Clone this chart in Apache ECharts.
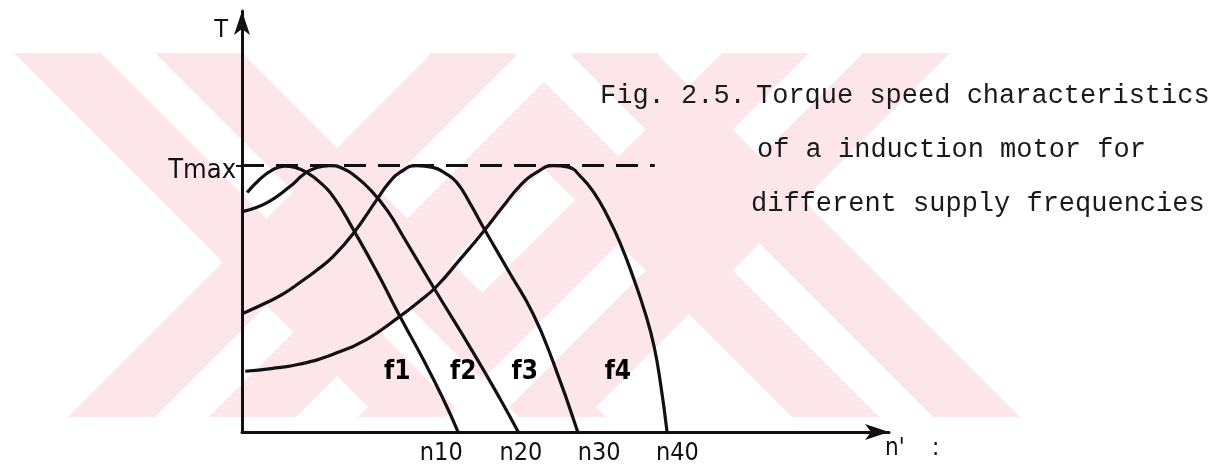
<!DOCTYPE html>
<html><head><meta charset="utf-8">
<script src="https://cdn.jsdelivr.net/npm/echarts@6/dist/echarts.min.js"></script>
<style>html,body{margin:0;padding:0;background:#fff}#c{width:1223px;height:466px}</style>
</head><body><div id="c"></div>
<script>
// x: relative speed (0..100 along the n axis), y: torque T / Tmax
const f1 = [[0.8,0.899],[2.6,0.945],[4.6,0.982],[6.6,0.998],[8.2,0.993],[9.7,0.978],[12.1,0.936],[14.4,0.873],[17.2,0.760],[20.9,0.599],[24.4,0.434],[28.0,0.273],[31.1,0.124],[33.4,0]];
const f2 = [[0.2,0.828],[3.9,0.861],[7.4,0.921],[9.7,0.970],[11.6,0.993],[13.6,1.0],[15.5,0.990],[17.5,0.960],[20.0,0.905],[22.5,0.830],[25.0,0.730],[29.5,0.547],[35.7,0.300],[39.9,0.124],[42.7,0]];
const f3 = [[0.2,0.446],[3.9,0.487],[6.5,0.520],[9.0,0.562],[11.6,0.608],[14.1,0.659],[17.2,0.745],[20.9,0.874],[22.7,0.935],[24.4,0.974],[27.0,1.0],[29.5,0.993],[31.5,0.970],[33.2,0.936],[35.2,0.860],[37.2,0.772],[41.4,0.596],[45.0,0.443],[48.1,0.262],[51.9,0]];
const f4 = [[0.5,0.228],[4.5,0.238],[9.0,0.255],[14.1,0.292],[19.3,0.348],[24.4,0.434],[27.3,0.488],[30.1,0.547],[33.6,0.645],[37.2,0.749],[40.3,0.845],[43.0,0.925],[45.6,0.975],[48.1,1.0],[50.3,0.995],[52.5,0.955],[54.5,0.895],[56.5,0.810],[58.4,0.712],[60.4,0.585],[62.4,0.440],[63.7,0.320],[64.7,0.180],[65.7,0]];
const tmaxLine = [[0,1],[63.8,1]];
const curveNames = ['f1','f2','f3','f4'];
const curveLabelX = [24.0, 34.2, 43.7, 58.1];
const curveLabelY = 0.225;
const speedTicks = [30.8, 43.1, 55.2, 67.3];
const speedTickLabels = ['n10','n20','n30','n40'];
const torqueTicks = [1];
const torqueTickLabels = ['Tmax'];
const captionLines = ['Fig. 2.5.', 'Torque speed characteristics', 'of a induction motor for', 'different supply frequencies'];

const INK = '#111111';
const SANS = '"DejaVu Sans Condensed","Liberation Sans Narrow","DejaVu Sans",sans-serif';
const MONO = '"Liberation Mono","DejaVu Sans Mono",monospace';
const PINK = '#fce6ea';

// watermark (background decoration): two crossed X shapes made of 45-degree bands
const wmTop = 53, wmBot = 417;
function band(dir, a, b) {
  if (dir > 0) return [[a+wmTop,wmTop],[b+wmTop,wmTop],[b+wmBot,wmBot],[a+wmBot,wmBot]];
  return [[a-wmTop,wmTop],[b-wmTop,wmTop],[b-wmBot,wmBot],[a-wmBot,wmBot]];
}
function stripe(dir, a, b, c, upper) {
  if (dir > 0) {
    const p = [[(a+c)/2,(c-a)/2],[(b+c)/2,(c-b)/2]];
    return upper ? [[a+wmTop,wmTop],[b+wmTop,wmTop],p[1],p[0]] : [p[0],p[1],[b+wmBot,wmBot],[a+wmBot,wmBot]];
  } else {
    const p = [[(a+c)/2,(a-c)/2],[(b+c)/2,(b-c)/2]];
    return upper ? [[a-wmTop,wmTop],[b-wmTop,wmTop],p[1],p[0]] : [p[0],p[1],[b-wmBot,wmBot],[a-wmBot,wmBot]];
  }
}
function xShape(cx, cy, h, s) {
  const d = cx - cy, su = cx + cy;
  return {
    bands: [band(1, d-h, d+h), band(-1, su-h, su+h)],
    stripes: [
      stripe(1, d-s, d+s, su-h, true), stripe(1, d-s, d+s, su+h, false),
      stripe(-1, su-s, su+s, d+h, true), stripe(-1, su-s, su+s, d-h, false)
    ]
  };
}
const wmA = xShape(337, 262, 114, 27), wmB = xShape(689, 200, 114, 27);
const wmElems = [];
[...wmA.bands, ...wmB.bands].forEach(p => wmElems.push({type:'polygon', silent:true, z:-10, shape:{points:p}, style:{fill:PINK}}));
[...wmA.stripes, ...wmB.stripes].forEach(p => wmElems.push({type:'polygon', silent:true, z:-9, shape:{points:p}, style:{fill:'#ffffff'}}));

function curve(name, data) {
  return { name, type:'line', data, smooth:0.5, symbol:'none', z:3, lineStyle:{color:INK, width:3.2} };
}

const chart = echarts.init(document.getElementById('c'), null, {renderer:'canvas'});
chart.setOption({
  backgroundColor:'#ffffff',
  animation:false,
  title: [
    {text:captionLines[0], left:600, top:82},
    {text:captionLines[1], left:756, top:82},
    {text:captionLines[2], left:757, top:136},
    {text:captionLines[3], left:751, top:190}
  ].map(t => Object.assign(t, {padding:0, textStyle:{fontFamily:MONO, fontSize:27, fontWeight:'normal', color:'#1a1a1a'}})),
  graphic: wmElems,
  grid:{left:242, right:334, top:11, bottom:33, containLabel:false},
  xAxis:{
    type:'value', min:0, max:100,
    name:"n'    :", nameLocation:'end', nameGap:-4,
    nameTextStyle:{fontFamily:SANS, fontSize:24, color:INK, align:'left', verticalAlign:'top', padding:[5,0,0,0]},
    axisLine:{show:true, onZero:false, symbol:['none','arrow'], symbolSize:[12,24], symbolOffset:[0,0], lineStyle:{color:INK, width:3}},
    axisTick:{show:false},
    splitLine:{show:false},
    axisLabel:{show:true, customValues:speedTicks, margin:9,
      formatter:(v)=>{const i = speedTicks.findIndex(t=>Math.abs(t-v)<1e-6); return i>=0?speedTickLabels[i]:'';},
      fontFamily:SANS, fontSize:25, color:INK}
  },
  yAxis:{
    type:'value', min:0, max:1.58,
    name:'T', nameLocation:'end', nameGap:-19,
    nameTextStyle:{fontFamily:SANS, fontSize:25, color:INK, align:'right', verticalAlign:'middle', padding:[0,14,0,0]},
    axisLine:{show:true, onZero:false, symbol:['none','arrow'], symbolSize:[12,24], symbolOffset:[0,0], lineStyle:{color:INK, width:3}},
    axisTick:{show:true, customValues:torqueTicks, length:6, lineStyle:{color:INK, width:2}},
    splitLine:{show:false},
    axisLabel:{show:true, customValues:torqueTicks, margin:6,
      formatter:(v)=>{const i = torqueTicks.findIndex(t=>Math.abs(t-v)<1e-6); return i>=0?'{t|'+torqueTickLabels[i]+'}':'';},
      rich:{t:{fontFamily:SANS, fontSize:27, color:INK, padding:[10,0,0,0]}},
      fontFamily:SANS, fontSize:27, color:INK}
  },
  series:[
    curve('f1', f1), curve('f2', f2), curve('f3', f3), curve('f4', f4),
    {name:'Tmax', type:'line', data:tmaxLine, symbol:'none', z:2,
     lineStyle:{color:INK, width:3, type:[22,12]}},
    {name:'labels', type:'scatter', symbolSize:1, itemStyle:{opacity:0}, z:4,
     data: curveNames.map((n,i)=>({name:n, value:[curveLabelX[i], curveLabelY]})),
     label:{show:true, position:'inside', formatter:'{b}', fontFamily:SANS, fontSize:26, fontWeight:'bold', color:'#000000', opacity:1}}
  ]
});
</script>
</body></html>
